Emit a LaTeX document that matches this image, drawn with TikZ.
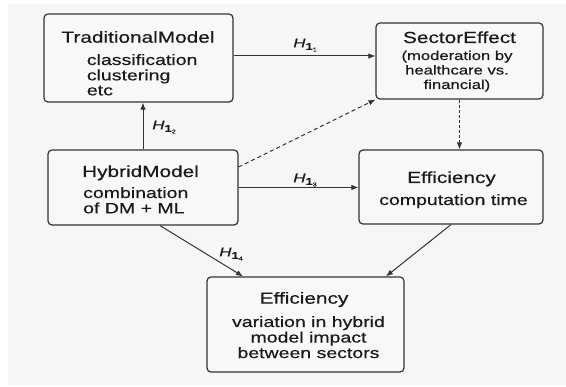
\documentclass[tikz,border=0pt]{standalone}
\usepackage{fontspec}
\setmainfont{Liberation Sans}[FakeStretch=1.3, FakeBold=0.4]
\usetikzlibrary{arrows.meta}
\definecolor{panel}{HTML}{F6F6F6}
\definecolor{boxfill}{HTML}{F8F8F8}
\definecolor{edge}{HTML}{333333}
\definecolor{ink}{HTML}{1A1A1A}
\newcommand{\Hlab}[1]{\textit{H}\raisebox{-2.5pt}{\fontsize{10}{10}\selectfont\textbf{1}\raisebox{-1.5pt}{\fontsize{5.5}{5.5}\selectfont #1}}}
\tikzset{
  box/.style={draw=edge, line width=1.2pt, rounded corners=4pt, fill=boxfill, inner sep=0pt},
  ttl/.style={inner sep=0pt, anchor=base, text=ink, font=\fontsize{16}{16}\selectfont},
  body/.style={inner sep=0pt, text=ink, font=\fontsize{15}{15}\selectfont},
  sbody/.style={inner sep=0pt, anchor=base, text=ink, font=\fontsize{12.8}{14.5}\selectfont},
  arr/.style={draw=edge, line width=1pt, -{Latex[length=7pt,width=5.5pt]}},
  darr/.style={arr, dash pattern=on 4pt off 3pt},
  ddarr/.style={arr, dash pattern=on 3pt off 2pt},
  hl/.style={inner sep=0pt, text=ink, font=\fontsize{13}{13}\selectfont}
}
\begin{document}
\begin{tikzpicture}[x=1pt,y=-1pt]
\useasboundingbox (0,0) rectangle (566,387);
\fill[white] (0,0) rectangle (566,387);
\fill[panel] (8,4) rectangle (566,385);

% boxes
\node[box, minimum width=189pt, minimum height=88pt] (trad) at (138.5,58) {};
\node[box, minimum width=190pt, minimum height=75pt] (hyb) at (143,187.5) {};
\node[box, minimum width=167pt, minimum height=76pt] (sec) at (459.5,61) {};
\node[box, minimum width=184pt, minimum height=74pt] (eff) at (451,187) {};
\node[box, minimum width=197pt, minimum height=95pt] (bot) at (305.5,324.5) {};

% texts
\node[ttl] (tradT) at (138,42.7) {TraditionalModel};
\node[body, anchor=base west] (tradB) at (86.7,65) {\begin{tabular}[t]{@{}l@{}}classification\\clustering\\etc\end{tabular}};
\node[ttl] (hybT) at (140.5,177) {HybridModel};
\node[body, anchor=base west] (hybB) at (83,198) {\begin{tabular}[t]{@{}l@{}}combination\\of DM + ML\end{tabular}};
\node[ttl] (secT) at (459.5,43) {SectorEffect};
\node[sbody] (secB) at (457,60) {\begin{tabular}[t]{@{}c@{}}(moderation by\\healthcare vs.\\financial)\end{tabular}};
\node[ttl] (effT) at (451.5,183) {Efficiency};
\node[body, anchor=base] (effB) at (453.5,205) {computation time};
\node[ttl] (botT) at (304,303.7) {Efficiency};
\node[body, anchor=base, font=\fontsize{15}{15.5}\selectfont] (botB) at (308.5,327) {\begin{tabular}[t]{@{}c@{}}variation in hybrid\\model impact\\between sectors\end{tabular}};

% connectors
\draw[arr] ([yshift=2pt]trad.east) -- ([yshift=2pt]trad.east -| sec.west);
\draw[arr] (hyb.north) -- (hyb.north |- trad.south);
\draw[darr] ([yshift=20.5pt]hyb.east) -- (sec.south west);
\draw[ddarr] (sec.south) -- (sec.south |- eff.north);
\draw[arr] (hyb.east) -- (hyb.east -| eff.west);
\draw[arr] ([xshift=17pt]hyb.south) -- ([xshift=-62.5pt]bot.north);
\draw[arr] (eff.south) -- ([xshift=80.5pt]bot.north);

% labels
\node[hl] (l1) at (305,45) {\Hlab{1}};
\node[hl] (l2) at (164,127) {\Hlab{2}};
\node[hl] (l3) at (305,180) {\Hlab{3}};
\node[hl] (l4) at (231,254) {\Hlab{4}};
\end{tikzpicture}
\end{document}
